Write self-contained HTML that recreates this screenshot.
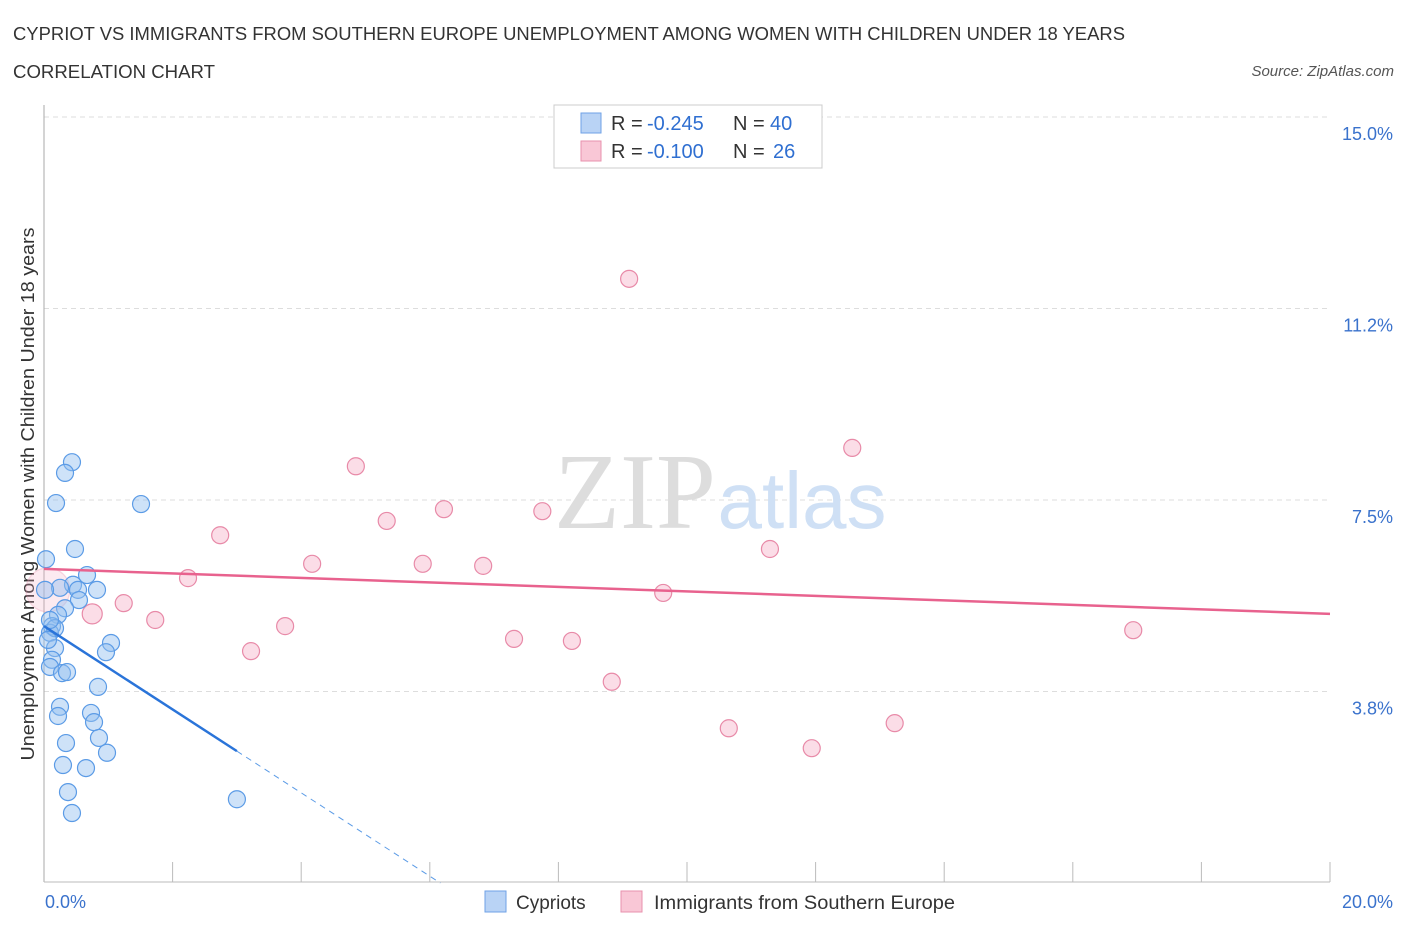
<!DOCTYPE html>
<html><head><meta charset="utf-8"><style>
body{margin:0;background:#fff;font-family:"Liberation Sans",sans-serif;}
svg{display:block}
</style></head><body>
<svg width="1406" height="930" xmlns="http://www.w3.org/2000/svg">
<text x="13" y="40" font-size="18" fill="#333" textLength="1112" lengthAdjust="spacingAndGlyphs">CYPRIOT VS IMMIGRANTS FROM SOUTHERN EUROPE UNEMPLOYMENT AMONG WOMEN WITH CHILDREN UNDER 18 YEARS</text>
<text x="13" y="78" font-size="18" fill="#333" textLength="202" lengthAdjust="spacingAndGlyphs">CORRELATION CHART</text>
<text x="1394" y="76" font-size="15" fill="#555" font-style="italic" text-anchor="end">Source: ZipAtlas.com</text>
<g id="grid"></g>
<text x="635" y="528" font-size="108" fill="#ddd" font-family="Liberation Serif,serif" text-anchor="middle">ZIP</text>
<text x="802" y="528" font-size="80" fill="#cfe0f5" text-anchor="middle">atlas</text>
<text transform="translate(34,494) rotate(-90)" font-size="18" fill="#333" text-anchor="middle" textLength="533" lengthAdjust="spacingAndGlyphs">Unemployment Among Women with Children Under 18 years</text>
<g id="marks"></g>
<g>
<rect x="554" y="105" width="268" height="63" fill="#fff" stroke="#ccc"/>
<rect x="581" y="113" width="20" height="20" fill="#b9d3f5" stroke="#6fa2e6"/>
<rect x="581" y="141" width="20" height="20" fill="#f9c7d6" stroke="#e892ad"/>
<text x="611" y="130" font-size="20" fill="#333">R =</text>
<text x="647" y="130" font-size="20" fill="#2f6fd1">-0.245</text>
<text x="733" y="130" font-size="20" fill="#333">N =</text>
<text x="770" y="130" font-size="20" fill="#2f6fd1">40</text>
<text x="611" y="158" font-size="20" fill="#333">R =</text>
<text x="647" y="158" font-size="20" fill="#2f6fd1">-0.100</text>
<text x="733" y="158" font-size="20" fill="#333">N =</text>
<text x="773" y="158" font-size="20" fill="#2f6fd1">26</text>
</g>
<g>
<rect x="485" y="891" width="21" height="21" fill="#b9d3f5" stroke="#6fa2e6"/>
<text x="516" y="909" font-size="19" fill="#333">Cypriots</text>
<rect x="621" y="891" width="21" height="21" fill="#f9c7d6" stroke="#e892ad"/>
<text x="654" y="909" font-size="19" fill="#333" textLength="301" lengthAdjust="spacingAndGlyphs">Immigrants from Southern Europe</text>
</g>
</svg>
<script>
const xTicks=[0,20];
const xTickLabels=["0.0%","20.0%"];
const yTicks=[3.75,7.5,11.25,15];
const yTickLabels=["3.8%","7.5%","11.2%","15.0%"];
const blueX=[.435,.327,.187,1.509,.031,.482,.669,.451,.249,.529,.824,.544,.327,.218,.124,.093,.171,.124,.093,.280,.358,.840,1.042,.964,.249,.218,.731,.778,.855,.980,.342,.295,.653,.373,.435,3.00,.171,.062,.093,.016];
const blueY=[8.24,8.03,7.44,7.42,6.34,6.54,6.03,5.84,5.78,5.74,5.74,5.54,5.38,5.25,5.03,4.90,4.60,4.37,4.23,4.11,4.13,3.84,4.70,4.52,3.45,3.27,3.33,3.15,2.84,2.55,2.74,2.31,2.25,1.78,1.37,1.64,4.99,4.76,5.15,5.74];
const pinkX=[9.10,12.57,4.85,2.74,5.33,6.22,7.75,11.29,2.24,4.17,5.89,6.83,9.63,1.24,.75,1.73,3.75,3.22,7.31,8.21,8.83,10.65,11.94,13.23,16.94,.06];
const pinkY=[11.83,8.52,8.16,6.81,7.09,7.32,7.28,6.54,5.97,6.25,6.25,6.21,5.68,5.48,5.27,5.15,5.03,4.54,4.78,4.74,3.94,3.03,2.64,3.13,4.95,5.74];
const pinkR=[8.5,8.5,8.5,8.5,8.5,8.5,8.5,8.5,8.5,8.5,8.5,8.5,8.5,8.5,10,8.5,8.5,8.5,8.5,8.5,8.5,8.5,8.5,8.5,8.5,22];
const blueTrend=[5.03,-0.816];
const pinkTrend=[6.15,-0.044];
const X=v=>44+v*64.3, Y=v=>883-v*51.07;
const NS="http://www.w3.org/2000/svg";
function mk(t,a,p){const e=document.createElementNS(NS,t);for(const k in a)e.setAttribute(k,a[k]);p.appendChild(e);return e;}
const g=document.getElementById('grid'), m=document.getElementById('marks');
yTicks.forEach((v,i)=>{
 const l=mk('line',{x1:44,x2:1330,y1:Y(v),y2:Y(v),stroke:'#ddd','stroke-dasharray':'5,4'},g);
 
 
 const t=mk('text',{x:1393,y:Y(v)+23,'font-size':18,fill:'#3a72cc','text-anchor':'end'},g);
 t.textContent=yTickLabels[i];
 
 
});
for(let i=0;i<=10;i++){
 const l=mk('line',{x1:X(i*2),x2:X(i*2),y1:862,y2:882,stroke:'#bbb'},g);
 
 
}
const ax=mk('line',{x1:44,x2:44,y1:105,y2:882,stroke:'#aaa'},g);


const bx=mk('line',{x1:44,x2:1330,y1:882,y2:882,stroke:'#bbb'},g);


xTicks.forEach((v,i)=>{
 const t=mk('text',{x:i?1393:45,y:908,'font-size':18,fill:'#3a72cc','text-anchor':i?'end':'start'},g);
 t.textContent=xTickLabels[i];
 
 
});
pinkX.forEach((x,i)=>{
 const big=pinkR[i]>15;
 const c=mk('circle',{cx:X(x),cy:Y(pinkY[i]),r:pinkR[i],fill:big?'rgba(244,170,195,0.25)':'rgba(244,170,195,0.4)',stroke:big?'rgba(232,138,168,0.3)':'#e88aa8','stroke-width':1.2},m);
 
 
});
blueX.forEach((x,i)=>{
 const c=mk('circle',{cx:X(x),cy:Y(blueY[i]),r:8.5,fill:'rgba(147,190,240,0.45)',stroke:'#5b9be6','stroke-width':1.2},m);
 
 
});
const pl=mk('line',{x1:X(0),y1:Y(pinkTrend[0]),x2:X(20),y2:Y(pinkTrend[0]+pinkTrend[1]*20),stroke:'#e8628e','stroke-width':2.5},m);


const xe=3.0, x0=-blueTrend[0]/blueTrend[1];
const bl=mk('line',{x1:X(0),y1:Y(blueTrend[0]),x2:X(xe),y2:Y(blueTrend[0]+blueTrend[1]*xe),stroke:'#2a74d9','stroke-width':2.5},m);


const bd=mk('line',{x1:X(xe),y1:Y(blueTrend[0]+blueTrend[1]*xe),x2:X(x0),y2:Y(0),stroke:'#5b9be6','stroke-width':1,'stroke-dasharray':'6,5'},m);


</script>
</body></html>
